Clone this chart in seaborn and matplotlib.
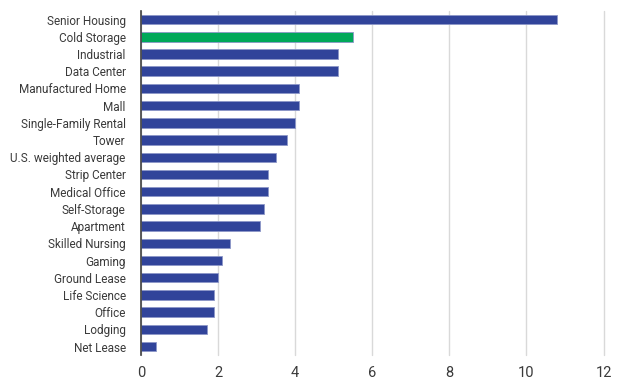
import pandas as pd
import numpy as np
import matplotlib.pyplot as plt
import seaborn as sns

# data
categories = ["Senior Housing", "Cold Storage", "Industrial", "Data Center",
              "Manufactured Home", "Mall", "Single-Family Rental", "Tower",
              "U.S. weighted average", "Strip Center", "Medical Office",
              "Self-Storage", "Apartment", "Skilled Nursing", "Gaming",
              "Ground Lease", "Life Science", "Office", "Lodging", "Net Lease"]
values = [10.8, 5.5, 5.1, 5.1, 4.1, 4.1, 4.0, 3.8, 3.5, 3.3, 3.3, 3.2, 3.1,
          2.3, 2.1, 2.0, 1.9, 1.9, 1.7, 0.4]
highlight = "Cold Storage"
x_ticks = [0, 2, 4, 6, 8, 10, 12]

NAVY = "#31449a"
GREEN = "#00a859"

sns.set_theme(style="white")
plt.rcParams['font.family'] = ['Roboto', 'DejaVu Sans']

df = pd.DataFrame({"category": categories, "value": values})
palette = {c: (GREEN if c == highlight else NAVY) for c in categories}

fig, ax = plt.subplots(figsize=(6.28, 3.92), dpi=100)
fig.subplots_adjust(left=0.2245, right=0.961, top=0.972, bottom=0.094)

sns.barplot(data=df, x="value", y="category", hue="category", palette=palette,
            order=categories, width=0.55, legend=False, ax=ax,
            edgecolor="#8d97c8", linewidth=0.6, saturation=1)

ax.set_xlim(0, 12)
ax.set_xticks(x_ticks)
ax.set_xlabel("")
ax.set_ylabel("")
ax.xaxis.grid(True, color="#d9d9d9", linewidth=1)
for gl in ax.get_xgridlines():
    gl.set_clip_on(False)
ax.set_axisbelow(True)
for side in ["top", "right", "bottom"]:
    ax.spines[side].set_visible(False)
ax.spines["left"].set_color("#404040")
ax.spines["left"].set_linewidth(1.2)
ax.tick_params(axis="both", length=0, labelsize=8.5, colors="#3a3a3a")
ax.tick_params(axis="x", pad=8, labelsize=10.5)
ax.tick_params(axis="y", pad=11)

fig.savefig("out.png", dpi=100)
